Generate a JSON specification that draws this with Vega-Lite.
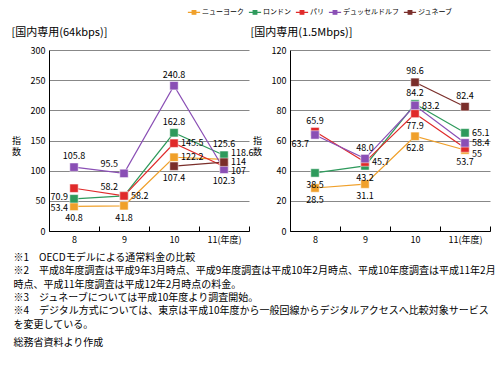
{
  "$schema": "https://vega.github.io/schema/vega-lite/v6.json",
  "background": "white",
  "padding": {"left": 11, "top": 5, "right": 4, "bottom": 4},
  "bounds": "flush",
  "config": {
    "font": "Noto Sans CJK JP",
    "view": {"stroke": null},
    "axis": {"labelFont": "Noto Sans CJK JP", "labelFontSize": 9, "labelColor": "black", "domainColor": "black", "tickColor": "black", "gridColor": "#888888", "titleFont": "Noto Sans CJK JP", "titleFontSize": 10, "titleFontWeight": "normal", "titleColor": "black"},
    "concat": {"spacing": 41},
    "legend": {"layout": {"top": {"anchor": "end"}}}
  },
  "title": {
    "text": [
      "※1　OECDモデルによる通常料金の比較",
      "※2　平成8年度調査は平成9年3月時点、平成9年度調査は平成10年2月時点、平成10年度調査は平成11年2月",
      "　　 時点、平成11年度調査は平成12年2月時点の料金。",
      "※3　ジュネーブについては平成10年度より調査開始。",
      "※4　デジタル方式については、東京は平成10年度から一般回線からデジタルアクセスへ比較対象サービス",
      "　　 を変更している。"
    ],
    "subtitle": "総務省資料より作成",
    "orient": "bottom",
    "anchor": "start",
    "frame": "bounds",
    "dx": 2,
    "fontSize": 10,
    "fontWeight": "normal",
    "lineHeight": 13.3,
    "subtitleFontSize": 10,
    "subtitlePadding": 8,
    "subtitleColor": "black",
    "color": "black",
    "offset": 9
  },
  "data": {"values": [
    {"panel": "64k", "series": "ニューヨーク", "year": "8", "value": 40.8, "label": "40.8"},
    {"panel": "64k", "series": "ニューヨーク", "year": "9", "value": 41.8, "label": "41.8"},
    {"panel": "64k", "series": "ニューヨーク", "year": "10", "value": 122.2, "label": "122.2"},
    {"panel": "64k", "series": "ニューヨーク", "year": "11(年度)", "value": 118.6, "label": "118.6"},
    {"panel": "64k", "series": "ロンドン", "year": "8", "value": 53.4, "label": "53.4"},
    {"panel": "64k", "series": "ロンドン", "year": "9", "value": 58.2, "label": "58.2"},
    {"panel": "64k", "series": "ロンドン", "year": "10", "value": 162.8, "label": "162.8"},
    {"panel": "64k", "series": "ロンドン", "year": "11(年度)", "value": 125.6, "label": "125.6"},
    {"panel": "64k", "series": "パリ", "year": "8", "value": 70.9, "label": "70.9"},
    {"panel": "64k", "series": "パリ", "year": "9", "value": 58.2, "label": "58.2"},
    {"panel": "64k", "series": "パリ", "year": "10", "value": 145.5, "label": "145.5"},
    {"panel": "64k", "series": "パリ", "year": "11(年度)", "value": 107, "label": "107"},
    {"panel": "64k", "series": "デュッセルドルフ", "year": "8", "value": 105.8, "label": "105.8"},
    {"panel": "64k", "series": "デュッセルドルフ", "year": "9", "value": 95.5, "label": "95.5"},
    {"panel": "64k", "series": "デュッセルドルフ", "year": "10", "value": 240.8, "label": "240.8"},
    {"panel": "64k", "series": "デュッセルドルフ", "year": "11(年度)", "value": 102.3, "label": "102.3"},
    {"panel": "64k", "series": "ジュネーブ", "year": "10", "value": 107.4, "label": "107.4"},
    {"panel": "64k", "series": "ジュネーブ", "year": "11(年度)", "value": 114, "label": "114"},
    {"panel": "15M", "series": "ニューヨーク", "year": "8", "value": 28.5, "label": "28.5"},
    {"panel": "15M", "series": "ニューヨーク", "year": "9", "value": 31.1, "label": "31.1"},
    {"panel": "15M", "series": "ニューヨーク", "year": "10", "value": 62.8, "label": "62.8"},
    {"panel": "15M", "series": "ニューヨーク", "year": "11(年度)", "value": 53.7, "label": "53.7"},
    {"panel": "15M", "series": "ロンドン", "year": "8", "value": 38.5, "label": "38.5"},
    {"panel": "15M", "series": "ロンドン", "year": "9", "value": 43.2, "label": "43.2"},
    {"panel": "15M", "series": "ロンドン", "year": "10", "value": 84.2, "label": "84.2"},
    {"panel": "15M", "series": "ロンドン", "year": "11(年度)", "value": 65.1, "label": "65.1"},
    {"panel": "15M", "series": "パリ", "year": "8", "value": 65.9, "label": "65.9"},
    {"panel": "15M", "series": "パリ", "year": "9", "value": 45.7, "label": "45.7"},
    {"panel": "15M", "series": "パリ", "year": "10", "value": 77.9, "label": "77.9"},
    {"panel": "15M", "series": "パリ", "year": "11(年度)", "value": 55, "label": "55"},
    {"panel": "15M", "series": "デュッセルドルフ", "year": "8", "value": 63.7, "label": "63.7"},
    {"panel": "15M", "series": "デュッセルドルフ", "year": "9", "value": 48.0, "label": "48.0"},
    {"panel": "15M", "series": "デュッセルドルフ", "year": "10", "value": 83.2, "label": "83.2"},
    {"panel": "15M", "series": "デュッセルドルフ", "year": "11(年度)", "value": 58.4, "label": "58.4"},
    {"panel": "15M", "series": "ジュネーブ", "year": "10", "value": 98.6, "label": "98.6"},
    {"panel": "15M", "series": "ジュネーブ", "year": "11(年度)", "value": 82.4, "label": "82.4"}
  ]},
  "hconcat": [
    {
      "width": 200,
      "height": 181,
      "title": {"text": "[国内専用(64kbps)]", "anchor": "start", "frame": "bounds", "dx": 0, "fontSize": 11, "fontWeight": "normal", "offset": 8, "color": "black"},
      "transform": [{"filter": "datum.panel === '64k'"}],
      "encoding": {
        "x": {"field": "year", "type": "ordinal", "sort": ["8", "9", "10", "11(年度)"], "scale": {"domain": ["8", "9", "10", "11(年度)"], "paddingInner": 0, "paddingOuter": 0}, "axis": {"title": null, "labelAngle": 0, "grid": false, "tickBand": "extent", "tickSize": -5, "labelPadding": 9}},
        "y": {"field": "value", "type": "quantitative", "scale": {"domain": [0, 300]}, "axis": {"values": [0, 50, 100, 150, 200, 250, 300], "title": ["指", "数"], "titleAngle": 0, "titleAlign": "center", "titleBaseline": "middle", "titlePadding": 3, "titleFontSize": 9, "ticks": false, "grid": true, "labelPadding": 4}}
      },
      "layer": [
        {"mark": {"type": "line", "strokeWidth": 1.2}, "encoding": {"color": {"field": "series", "type": "nominal", "scale": {"domain": ["ニューヨーク", "ロンドン", "パリ", "デュッセルドルフ", "ジュネーブ"], "range": ["#f0a02a", "#2e9a5c", "#e02a2a", "#8a4fb5", "#7a2e2a"]}, "legend": {"title": null, "orient": "top", "direction": "horizontal", "symbolType": "M-1,0H1M-0.3,-0.3H0.3V0.3H-0.3Z", "symbolSize": 150, "symbolStrokeWidth": 1.2, "labelFontSize": 7, "columnPadding": 2, "labelOffset": 1, "offset": 10}}}},
        {"mark": {"type": "point", "shape": "square", "filled": true, "size": 70, "opacity": 1, "stroke": "#ffffff", "strokeWidth": 0.5}, "encoding": {"color": {"field": "series", "type": "nominal"}}},
        {"transform": [{"filter": "indexof(['64k|デュッセルドルフ|8','64k|デュッセルドルフ|10','64k|ロンドン|10','64k|ロンドン|11(年度)'], datum.panel+'|'+datum.series+'|'+datum.year) >= 0"}], "mark": {"type": "text", "dy": -11, "fontSize": 9, "color": "black"}, "encoding": {"text": {"field": "label"}}},
        {"transform": [{"filter": "indexof(['64k|デュッセルドルフ|9','64k|パリ|9'], datum.panel+'|'+datum.series+'|'+datum.year) >= 0"}], "mark": {"type": "text", "dy": -9, "dx": -6, "align": "right", "fontSize": 9, "color": "black"}, "encoding": {"text": {"field": "label"}}},
        {"transform": [{"filter": "indexof(['64k|ニューヨーク|8','64k|ニューヨーク|9','64k|ジュネーブ|10','64k|デュッセルドルフ|11(年度)'], datum.panel+'|'+datum.series+'|'+datum.year) >= 0"}], "mark": {"type": "text", "dy": 12, "fontSize": 9, "color": "black"}, "encoding": {"text": {"field": "label"}}},
        {"transform": [{"filter": "indexof(['64k|ロンドン|9','64k|パリ|10','64k|ニューヨーク|10','64k|ジュネーブ|11(年度)'], datum.panel+'|'+datum.series+'|'+datum.year) >= 0"}], "mark": {"type": "text", "dx": 7, "align": "left", "fontSize": 9, "color": "black"}, "encoding": {"text": {"field": "label"}}},
        {"transform": [{"filter": "indexof(['64k|ニューヨーク|11(年度)'], datum.panel+'|'+datum.series+'|'+datum.year) >= 0"}], "mark": {"type": "text", "dx": 7, "dy": -6, "align": "left", "fontSize": 9, "color": "black"}, "encoding": {"text": {"field": "label"}}},
        {"transform": [{"filter": "indexof(['64k|パリ|11(年度)'], datum.panel+'|'+datum.series+'|'+datum.year) >= 0"}], "mark": {"type": "text", "dx": 7, "dy": 5, "align": "left", "fontSize": 9, "color": "black"}, "encoding": {"text": {"field": "label"}}},
        {"transform": [{"filter": "indexof(['64k|パリ|8','64k|ロンドン|8'], datum.panel+'|'+datum.series+'|'+datum.year) >= 0"}], "mark": {"type": "text", "dx": -6, "dy": 9, "align": "right", "fontSize": 9, "color": "black"}, "encoding": {"text": {"field": "label"}}}
      ]
    },
    {
      "width": 200,
      "height": 181,
      "title": {"text": "[国内専用(1.5Mbps)]", "anchor": "start", "frame": "bounds", "dx": -2, "fontSize": 11, "fontWeight": "normal", "offset": 8, "color": "black"},
      "transform": [{"filter": "datum.panel === '15M'"}],
      "encoding": {
        "x": {"field": "year", "type": "ordinal", "sort": ["8", "9", "10", "11(年度)"], "scale": {"domain": ["8", "9", "10", "11(年度)"], "paddingInner": 0, "paddingOuter": 0}, "axis": {"title": null, "labelAngle": 0, "grid": false, "tickBand": "extent", "tickSize": -5, "labelPadding": 9}},
        "y": {"field": "value", "type": "quantitative", "scale": {"domain": [0, 120]}, "axis": {"values": [0, 20, 40, 60, 80, 100, 120], "title": ["指", "数"], "titleAngle": 0, "titleAlign": "center", "titleBaseline": "middle", "titlePadding": 3, "titleFontSize": 9, "ticks": false, "grid": true, "labelPadding": 4}}
      },
      "layer": [
        {"mark": {"type": "line", "strokeWidth": 1.2}, "encoding": {"color": {"field": "series", "type": "nominal"}}},
        {"mark": {"type": "point", "shape": "square", "filled": true, "size": 70, "opacity": 1, "stroke": "#ffffff", "strokeWidth": 0.5}, "encoding": {"color": {"field": "series", "type": "nominal"}}},
        {"transform": [{"filter": "indexof(['15M|パリ|8','15M|デュッセルドルフ|9','15M|ジュネーブ|10','15M|ロンドン|10','15M|ジュネーブ|11(年度)'], datum.panel+'|'+datum.series+'|'+datum.year) >= 0"}], "mark": {"type": "text", "dy": -11, "fontSize": 9, "color": "black"}, "encoding": {"text": {"field": "label"}}},
        {"transform": [{"filter": "indexof(['15M|ロンドン|8','15M|ニューヨーク|8','15M|ロンドン|9','15M|ニューヨーク|9','15M|パリ|10','15M|ニューヨーク|10','15M|ニューヨーク|11(年度)'], datum.panel+'|'+datum.series+'|'+datum.year) >= 0"}], "mark": {"type": "text", "dy": 12, "fontSize": 9, "color": "black"}, "encoding": {"text": {"field": "label"}}},
        {"transform": [{"filter": "indexof(['15M|パリ|9','15M|デュッセルドルフ|10','15M|ロンドン|11(年度)','15M|デュッセルドルフ|11(年度)'], datum.panel+'|'+datum.series+'|'+datum.year) >= 0"}], "mark": {"type": "text", "dx": 7, "align": "left", "fontSize": 9, "color": "black"}, "encoding": {"text": {"field": "label"}}},
        {"transform": [{"filter": "indexof(['15M|パリ|11(年度)'], datum.panel+'|'+datum.series+'|'+datum.year) >= 0"}], "mark": {"type": "text", "dx": 7, "dy": 6, "align": "left", "fontSize": 9, "color": "black"}, "encoding": {"text": {"field": "label"}}},
        {"transform": [{"filter": "indexof(['15M|デュッセルドルフ|8'], datum.panel+'|'+datum.series+'|'+datum.year) >= 0"}], "mark": {"type": "text", "dx": -6, "dy": 9, "align": "right", "fontSize": 9, "color": "black"}, "encoding": {"text": {"field": "label"}}}
      ]
    }
  ]
}
